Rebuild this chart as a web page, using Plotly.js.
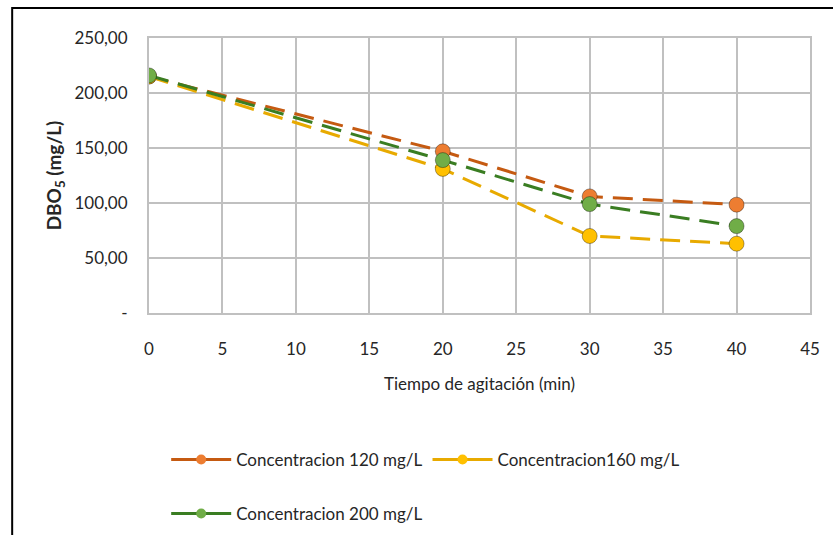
<!DOCTYPE html>
<html>
<head>
<meta charset="utf-8">
<script src="https://cdn.plot.ly/plotly-3.0.1.min.js"></script>
<style>html,body{margin:0;padding:0;background:#fff;}#chart{width:833px;height:535px;}</style>
</head>
<body>
<div id="chart"></div>
<script>
// Data
const tiempo = [0, 20, 30, 40];
const conc120 = [215, 147, 106, 98.5];
const conc160 = [215, 131, 70, 63];
const conc200 = [216, 139, 99, 79];
const seriesNames = ["Concentracion 120 mg/L", "Concentracion160 mg/L", "Concentracion 200 mg/L"];
const yTickVals = [0, 50, 100, 150, 200, 250];
const yTickText = ["-", "50,00", "100,00", "150,00", "200,00", "250,00"];
const xTickVals = [0, 5, 10, 15, 20, 25, 30, 35, 40, 45];

const FONT = "Lato, 'Liberation Sans', Arial, sans-serif";
const lineColors = ['#C55A11', '#E8AA00', '#3A7D22'];
const markerColors = ['#ED7D31', '#FFC000', '#70AD47'];
const legends = ['legend', 'legend', 'legend2'];
const series = [conc120, conc160, conc200];

const data = [];
series.forEach((y, i) => {
  data.push({
    x: tiempo, y: y, name: seriesNames[i], type: 'scatter', mode: 'lines+markers',
    line: {color: lineColors[i], width: 3, dash: '20px,10px'},
    marker: {color: markerColors[i], size: 15, line: {color: 'rgba(0,0,0,0.35)', width: 1}},
    showlegend: false
  });
});
// legend-only entries (solid line as in the reference legend)
series.forEach((y, i) => {
  data.push({
    x: [null], y: [null], name: seriesNames[i], type: 'scatter', mode: 'lines+markers',
    line: {color: lineColors[i], width: 3},
    marker: {color: markerColors[i], size: 10},
    legend: legends[i], showlegend: true, hoverinfo: 'skip'
  });
});

const layout = {
  width: 833, height: 535,
  margin: {l: 149, r: 23, t: 37.5, b: 221.5},
  paper_bgcolor: '#ffffff', plot_bgcolor: '#ffffff',
  font: {family: FONT, size: 17, color: '#262626'},
  showlegend: true,
  xaxis: {
    range: [0, 45], tickvals: xTickVals, ticks: '', ticklabelstandoff: 20,
    showgrid: true, gridcolor: '#C0C0C0', gridwidth: 2,
    showline: true, linecolor: '#C0C0C0', linewidth: 2, mirror: true,
    zeroline: false, fixedrange: true, automargin: false,
    tickfont: {family: FONT, size: 17, color: '#262626'},
    title: {text: 'Tiempo de agitación (min)', font: {family: FONT, size: 17, color: '#262626'}, standoff: 20}
  },
  yaxis: {
    range: [0, 250], tickvals: yTickVals, ticktext: yTickText, ticks: '', ticklabelstandoff: 16,
    showgrid: true, gridcolor: '#C0C0C0', gridwidth: 2,
    showline: true, linecolor: '#C0C0C0', linewidth: 2, mirror: true,
    zeroline: false, fixedrange: true, automargin: false,
    tickfont: {family: FONT, size: 17, color: '#262626'},
    title: {text: '<b>DBO<sub>5</sub> (mg/L)</b>', font: {family: FONT, size: 19, color: '#262626'}, standoff: 8}
  },
  legend: {
    orientation: 'h', x: 0.026, xanchor: 'left', xref: 'paper',
    yref: 'container', y: 0.1402, yanchor: 'middle',
    font: {family: FONT, size: 17, color: '#262626'}, bgcolor: 'rgba(0,0,0,0)',
    itemwidth: 60, traceorder: 'normal'
  },
  legend2: {
    orientation: 'h', x: 0.026, xanchor: 'left', xref: 'paper',
    yref: 'container', y: 0.0393, yanchor: 'middle',
    font: {family: FONT, size: 17, color: '#262626'}, bgcolor: 'rgba(0,0,0,0)',
    itemwidth: 60
  },
  shapes: [{
    type: 'rect', xref: 'paper', yref: 'paper',
    x0: -0.207, x1: 1.5, y0: -1.5, y1: 1.109,
    line: {color: '#000000', width: 2}, fillcolor: 'rgba(0,0,0,0)', layer: 'below'
  }]
};

Plotly.newPlot('chart', data, layout, {displayModeBar: false, staticPlot: true});
</script>
</body>
</html>
